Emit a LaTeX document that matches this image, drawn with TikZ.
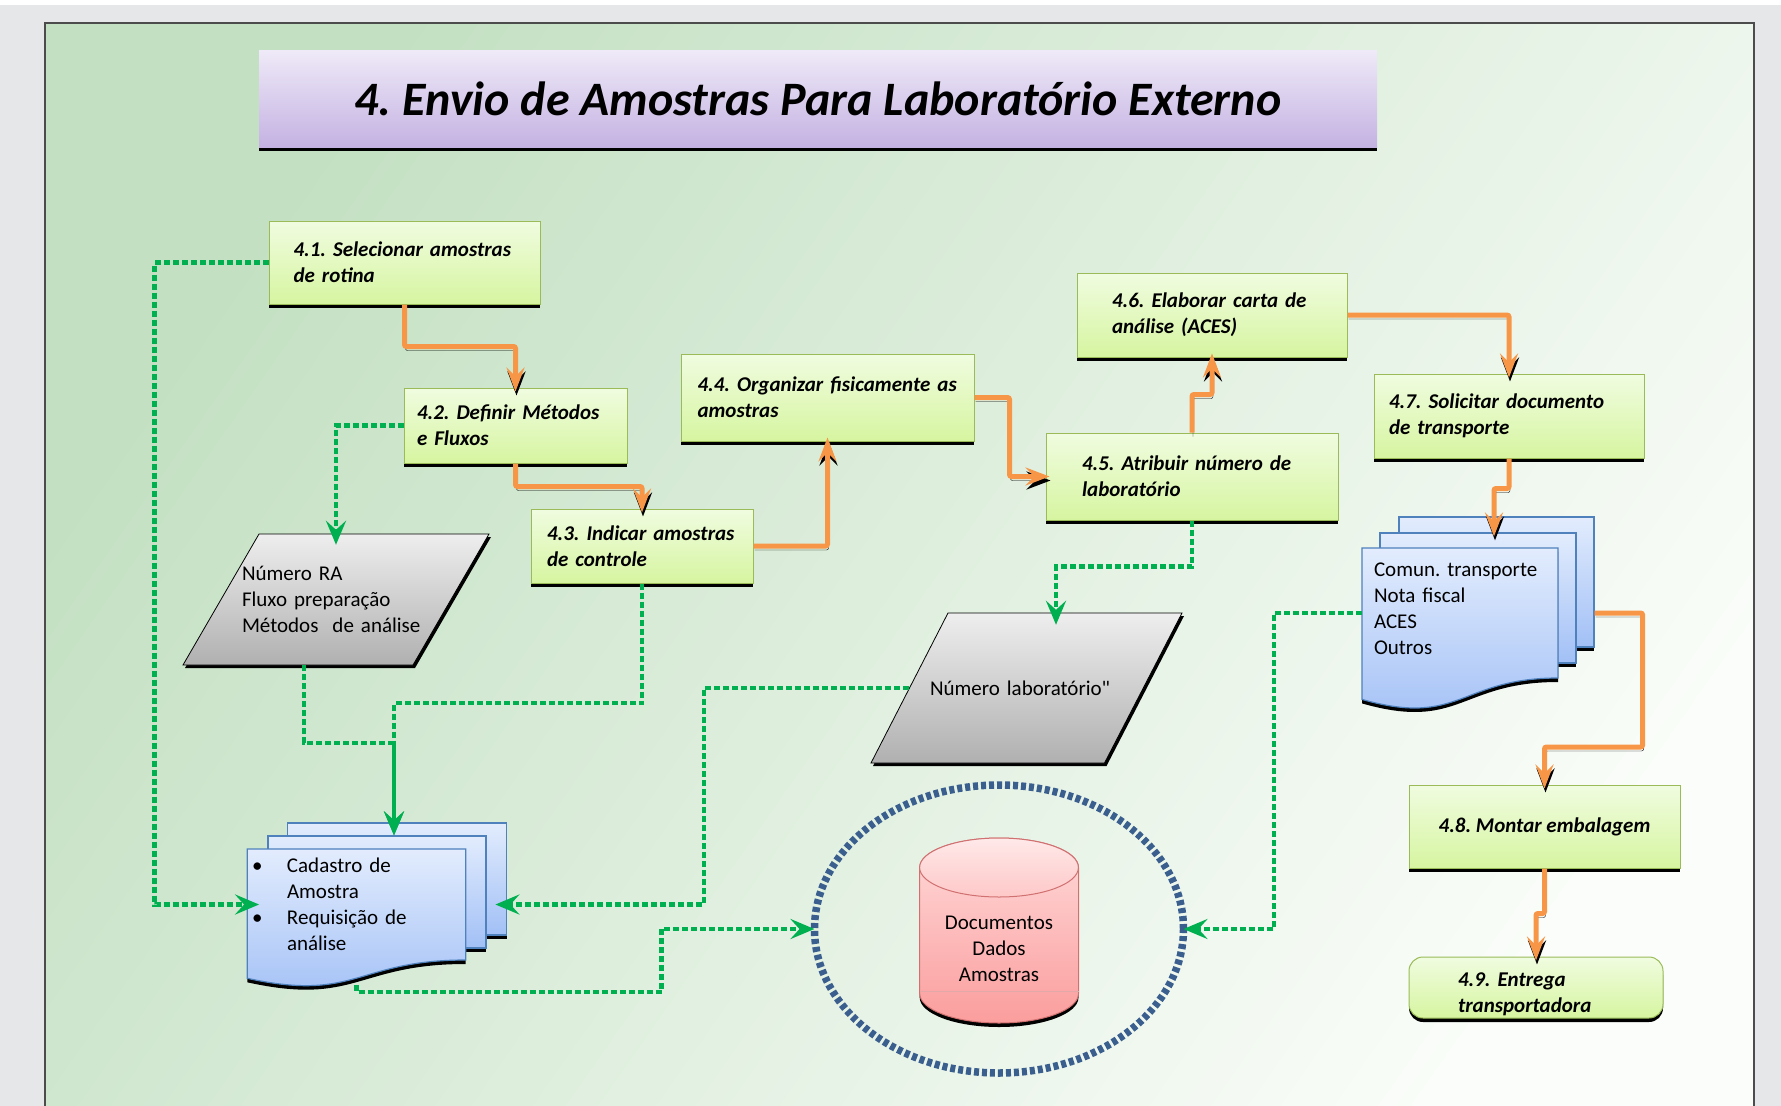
\documentclass[tikz,border=0pt]{standalone}
\usepackage{fontspec}
\setmainfont{Carlito}
\newfontfamily\straightfont{Carlito}[Ligatures=TeXOff]
\usepackage{tikz}
\usetikzlibrary{arrows.meta}
\usetikzlibrary{shapes.geometric}
\usetikzlibrary{shadows}
\definecolor{pagebg}{HTML}{E6E7E9}
\definecolor{frametop}{HTML}{C3E0C2}
\definecolor{framebot}{HTML}{FAFDF9}
\definecolor{titletop}{HTML}{EFEAF8}
\definecolor{titlebot}{HTML}{C4B2E2}
\definecolor{boxtop}{HTML}{F0FCE0}
\definecolor{boxbot}{HTML}{D6F5A0}
\definecolor{boxline}{HTML}{9BBB59}
\definecolor{doctop}{HTML}{E2ECFD}
\definecolor{docbot}{HTML}{A2C0F6}
\definecolor{docline}{HTML}{4F81BD}
\definecolor{slabtop}{HTML}{EEEEEE}
\definecolor{slabbot}{HTML}{B0B0B0}
\definecolor{cantop}{HTML}{FFDADA}
\definecolor{canbot}{HTML}{FB9D9D}
\definecolor{canline}{HTML}{D07070}
\definecolor{ringc}{HTML}{3A5F8E}
\definecolor{flowc}{HTML}{F79646}
\definecolor{infoc}{HTML}{00B050}
\newcommand{\stepfont}{\fontsize{21}{26}\selectfont\bfseries\itshape}
\newcommand{\notefont}{\fontsize{21}{26}\selectfont}
\newcommand{\headfont}{\fontsize{48}{58}\selectfont\bfseries\itshape}
\frenchspacing
\tikzset{
  blackshadow/.style={drop shadow={shadow xshift=0pt,shadow yshift=-4pt,opacity=1,fill=black}},
  titlebox/.style={top color=titletop, bottom color=titlebot, blackshadow, inner sep=0pt, font=\headfont},
  stepbox/.style={draw=boxline, line width=1pt, top color=boxtop, bottom color=boxbot, blackshadow, inner sep=0pt, align=left, font=\stepfont},
  paper/.style={draw=docline, line width=1.2pt, top color=doctop, bottom color=docbot, blackshadow},
  slab/.style={draw=black, line width=0.8pt, top color=slabtop, bottom color=slabbot, drop shadow={shadow xshift=2pt,shadow yshift=-3pt,opacity=1,fill=black}},
  can/.style={draw=canline, line width=1pt, top color=cantop, bottom color=canbot, blackshadow},
  notetext/.style={inner sep=0pt, font=\notefont, align=left},
  ring/.style={draw=ringc, line width=7.5pt, dash pattern=on 5pt off 3pt, ellipse, inner sep=0pt, outer sep=0pt},
  flow/.style={draw=flowc, line width=5pt, rounded corners=2pt, shorten >=-4pt, -{Stealth[length=24pt,width=18pt,inset=9pt]}, preaction={draw=black, transform canvas={xshift=1pt,yshift=-4pt}}},
  info/.style={draw=infoc, line width=4.5pt, dash pattern=on 6pt off 3pt, -{Stealth[length=24pt,width=20pt,inset=9pt]}}
}

\begin{document}
\begin{tikzpicture}[x=1pt,y=-1pt]
  \useasboundingbox (0,0) rectangle (1781,1106);
  \clip (0,0) rectangle (1781,1106);
  \fill[pagebg] (0,0) rectangle (1781,1106);
  \fill[white] (0,0) rectangle (1781,5);
  \path[draw=black!70, line width=2pt, top color=frametop, bottom color=framebot, shading angle=55] (45,23) rectangle (1754,1140);

  \node[titlebox, minimum width=1118pt, minimum height=97pt] (title) at (818,98.5) {4. Envio de Amostras Para Laboratório Externo};

  % etapas
  \node[stepbox, minimum width=271pt, minimum height=83pt, text width=222pt] (b41) at (404.5,262.5) {4.1. Selecionar amostras\\de rotina};
  \node[stepbox, minimum width=223pt, minimum height=75pt, text width=197pt] (b42) at (515.5,425.5) {4.2. Definir Métodos\\e Fluxos};
  \node[stepbox, minimum width=222pt, minimum height=74pt, text width=190pt] (b43) at (642,546) {4.3. Indicar amostras\\de controle};
  \node[stepbox, minimum width=293pt, minimum height=87pt, text width=260pt] (b44) at (827.5,397.5) {4.4. Organizar fisicamente as\\amostras};
  \node[stepbox, minimum width=292pt, minimum height=87pt, text width=220pt] (b45) at (1192,476.5) {4.5. Atribuir número de\\laboratório};
  \node[stepbox, minimum width=270pt, minimum height=84pt, text width=200pt] (b46) at (1212,315) {4.6. Elaborar carta de\\análise (ACES)};
  \node[stepbox, minimum width=270pt, minimum height=84pt, text width=240pt] (b47) at (1509,416) {4.7. Solicitar documento\\de transporte};
  \node[stepbox, align=center, minimum width=271pt, minimum height=83pt] (b48) at (1544.5,826.5) {4.8. Montar embalagem};
  \node[stepbox, rounded corners=14pt, minimum width=254pt, minimum height=61pt, text width=156pt] (b49) at (1536,987.5) {\rule{0pt}{27pt}4.9. Entrega\\transportadora};

  % dados
  \path[slab] (259,534) -- (489,534) -- (413,665) -- (183,665) -- cycle;
  \node[notetext, minimum width=230pt, minimum height=131pt, text width=188pt] (p1) at (336,599.5) {Número RA\\Fluxo preparação\\Métodos\ \ de análise};
  \path[slab] (948,613) -- (1182,613) -- (1104.5,763) -- (871,763) -- cycle;
  \node[notetext, minimum width=234pt, minimum height=150pt, text width=192pt] (p2) at (1026,688) {Número laboratório{\straightfont"}};

  % documentos
  \node[paper, minimum width=219pt, minimum height=112pt] (d1back) at (397.3,879) {};
  \node[paper, minimum width=218pt, minimum height=112pt] (d1mid) at (377,892) {};
  \path[paper] (247.3,849) -- (465.7,849) -- (465.7,960) .. controls (356.5,960) and (356.5,1002.3) .. (247.3,978.3) -- cycle;
  \node[notetext, minimum width=218.4pt, minimum height=111pt, text width=209pt] (d1front) at (356.5,904.5) {\makebox[35pt][l]{\textbullet}Cadastro de\\\hspace*{35pt}Amostra\\\makebox[35pt][l]{\textbullet}Requisição de\\\hspace*{35pt}análise};

  \node[paper, minimum width=195pt, minimum height=130pt] (d2back) at (1496.5,582) {};
  \node[paper, minimum width=196pt, minimum height=130pt] (d2mid) at (1478,598) {};
  \path[paper] (1362,548) -- (1558,548) -- (1558,678) .. controls (1460,678) and (1460,727.4) .. (1362,699.4) -- cycle;
  \node[notetext, minimum width=196pt, minimum height=130pt, text width=172pt] (d2front) at (1460,613) {Comun. transporte\\Nota fiscal\\ACES\\Outros\rule[-8pt]{0pt}{8pt}};

  % base
  \path[can] (919.7,867.5) -- (919.7,993.5) arc[start angle=180, end angle=360, x radius=79.4pt, y radius=29.5pt] -- (1078.5,867.5) arc[start angle=0, end angle=180, x radius=79.4pt, y radius=29.5pt] -- cycle;
  \draw[canline, line width=1pt, top color=cantop!60!white, bottom color=cantop!70!canbot] (999,867.5) ellipse [x radius=79.4pt, y radius=29.5pt];
  \draw[canline!60, line width=0.8pt] (919.7,991) -- (1078.5,991);
  \node[notetext, align=center] (can) at (999,949) {Documentos\\Dados\\Amostras};
  \node[ring, minimum width=369pt, minimum height=288pt] (db) at (999,929) {};

  \coordinate (d1in) at ([xshift=17pt]d1mid.north);

  \draw[flow] (b41.south) -- ++(0,42) -| (b42.north);
  \draw[flow] (b42.south) -- ++(0,23) -| (b43.north);
  \draw[flow] (b43.east) -| (b44.south);
  \draw[flow] (b44.east) -- ++(35,0) |- (b45.west);
  \draw[flow] (b45.north) -- ++(0,-38) -| (b46.south);
  \draw[flow] (b46.east) -| (b47.north);
  \draw[flow] (b47.south) -- ++(0,30) -| ([xshift=16pt]d2mid.north);
  \draw[flow] (d2back.east |- d2front.east) -- ++(48,0) -- ++(0,134) -| (b48.north);
  \draw[flow] (b48.south) -- ++(0,45) -| (b49.north);

  \draw[info, shorten >=-12pt] (b41.west) -- ++(-114,0) |- (d1front.west);
  \draw[info, shorten >=-11pt] (b42.west) -| (p1.north);
  \draw[info] ([xshift=-32pt]p1.south) |- (d1in |- 0,743) -- (d1in);
  \draw[info] (b43.south) |- (d1in |- 0,703) -- (d1in);
  \draw[info, shorten >=-12pt] (p2.west) -- ++(-205,0) |- (d1back.east |- d1front.east);
  \draw[info] ([yshift=-25pt]d1front.south) -- ++(0,7) -| ([xshift=-153pt]db.west) -- (db.west);
  \draw[info] (d2front.west) -- ++(-88,0) |- (db.east);
  \draw[info, shorten >=-12pt] (b45.south) -- ++(0,46) -| ([xshift=30pt]p2.north);
\end{tikzpicture}
\end{document}
